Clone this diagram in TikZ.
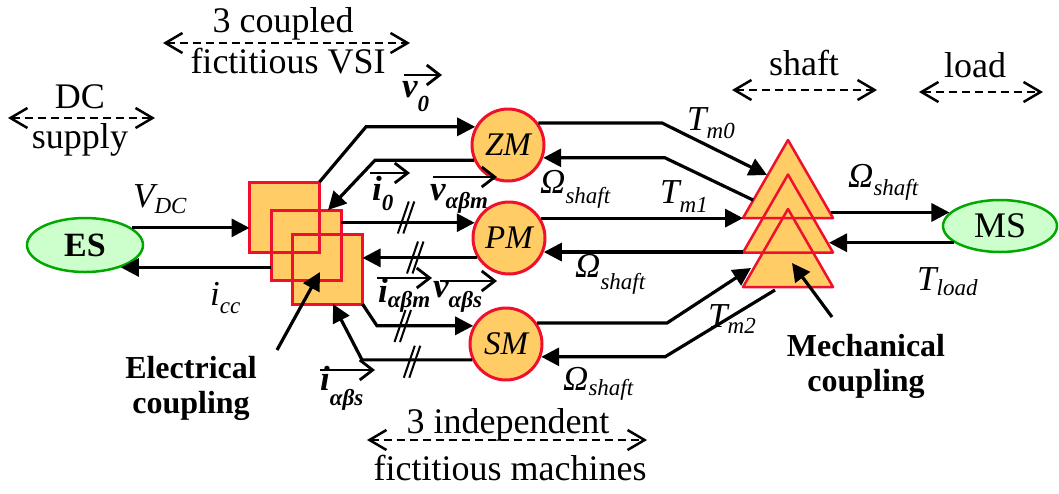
\documentclass[tikz,border=0pt]{standalone}
\usepackage{fontspec}
\setmainfont{Liberation Serif}
\usetikzlibrary{arrows.meta,shapes.geometric}

\definecolor{fillor}{HTML}{FFCC66}
\definecolor{redb}{HTML}{F0102E}
\definecolor{greenb}{HTML}{00A800}
\definecolor{fillgr}{HTML}{CCFFCC}

\newcommand\bigf{\fontsize{36}{40}\selectfont}
\newcommand\labf{\fontsize{35}{38}\selectfont\itshape}
\newcommand\SBf{\fontsize{23}{25}\selectfont\itshape}
\newcommand\lab[3][8pt]{#2\raisebox{-#1}{\SBf #3}}

\tikzset{
  conn/.style={line width=3.2pt, -{Triangle[length=18pt,width=18pt]}},
  vec/.style={line width=2.8pt, -{Straight Barb[length=13pt,width=20pt]}},
  dasharr/.style={line width=2.5pt, dash pattern=on 8pt off 5pt,
     {Straight Barb[length=17pt,width=20pt]}-{Straight Barb[length=17pt,width=20pt]}},
  mach/.style={circle, draw=redb, fill=fillor, line width=3pt, minimum size=72pt,
     inner sep=0pt, font=\fontsize{33}{33}\selectfont\itshape},
  sqbox/.style={rectangle, draw=redb, fill=fillor, line width=3pt, minimum size=70pt,
     inner sep=0pt, outer sep=0pt},
  sqline/.style={draw=redb, line width=3pt},
  src/.style={ellipse, draw=greenb, fill=fillgr, line width=2.5pt, inner sep=0pt},
  trifill/.style={fill=fillor},
  triline/.style={draw=redb, line width=2.5pt, line join=round},
  slashl/.style={line width=2pt},
  hdr/.style={inner sep=0pt, anchor=base, font=\bigf},
  lbl/.style={inner sep=0pt, anchor=base west, font=\labf},
  vlbl/.style={inner sep=0pt, anchor=base west, font=\labf\bfseries},
  blbl/.style={inner sep=0pt, anchor=base, font=\fontsize{32}{32}\selectfont\bfseries},
  dslash/.pic={
    \draw[slashl] (-8,16) -- (3,-16);
    \draw[slashl] (-2.5,16) -- (8.5,-16);
  }
}

\begin{document}
\begin{tikzpicture}[x=1pt,y=-1pt]
\useasboundingbox (0,0) rectangle (1059,493);

% ---------- headers ----------
\node[hdr] (h1) at (283,32) {3 coupled};
\node[hdr] (h2) at (288,73) {fictitious VSI};
\coordinate (d1a) at (163,43); \coordinate (d1b) at (410,43);
\draw[dasharr] (d1a) -- (d1b);
\node[hdr] (h3) at (80,108) {DC};
\node[hdr] (h4) at (80,148) {supply};
\coordinate (d2a) at (8,118); \coordinate (d2b) at (155,118);
\draw[dasharr] (d2a) -- (d2b);
\node[hdr] (h5) at (804,75) {shaft};
\coordinate (d3a) at (732,90); \coordinate (d3b) at (877,90);
\draw[dasharr] (d3a) -- (d3b);
\node[hdr] (h6) at (975,77) {load};
\coordinate (d4a) at (919,92); \coordinate (d4b) at (1043,92);
\draw[dasharr] (d4a) -- (d4b);
\coordinate (d5a) at (367,440); \coordinate (d5b) at (647,440);
\draw[dasharr] (d5a) -- (d5b);
\node[hdr] (h7) at (508,433) {3 independent};
\node[hdr] (h8) at (510,480) {fictitious machines};

% ---------- sources ----------
\node[src, minimum width=116pt, minimum height=54pt,
      font=\fontsize{34}{34}\selectfont\bfseries] (ES) at (85,245) {ES};
\node[src, minimum width=114pt, minimum height=52pt,
      font=\fontsize{36}{36}\selectfont] (MS) at (1000,226) {MS};

% ---------- VSI squares ----------
\node[sqbox] (sq1) at (284.5,217) {};
\node[sqbox] (sq2) at (306,245) {};
\node[sqbox] (sq3) at (327.5,269) {};
\foreach \s in {sq1,sq2} \draw[sqline] (\s.south west) rectangle (\s.north east);

% ---------- shaft triangles ----------
\coordinate (T1a) at (788,140);   \coordinate (T1l) at (743,218);   \coordinate (T1r) at (833,218);
\coordinate (T2a) at (788,174.5); \coordinate (T2l) at (743,252.5); \coordinate (T2r) at (833,252.5);
\coordinate (T3a) at (788,209);   \coordinate (T3l) at (743,287);   \coordinate (T3r) at (833,287);
\foreach \t in {T1,T2,T3} \fill[trifill] (\t a) -- (\t l) -- (\t r) -- cycle;
\foreach \t in {T1,T2,T3} \draw[triline] (\t a) -- (\t l) -- (\t r) -- cycle;

% ---------- machines ----------
\node[mach] (ZM) at (508,145) {ZM};
\node[mach] (PM) at (509,238) {PM};
\node[mach] (SM) at (506,344) {SM};

% ---------- DC side connectors ----------
\draw[conn] (ES.20) -- (sq1.west |- ES.20);
\draw[conn] (sq2.west |- ES.-32) -- (ES.-32);

% ---------- VSI <-> machines ----------
\draw[conn] (sq1.north east) -- (366,0 |- ZM.151) -- (ZM.151);
\draw[conn] (ZM.204) -- (375,0 |- ZM.204) -- (328,0 |- sq2.north);
\draw[conn] (sq2.east |- PM.156) -- (PM.156);
\draw[conn] (PM.212) -- (sq3.east |- PM.212);
\draw[conn] (sq3.south east) -- (377,0 |- SM.151) -- (SM.151);
\draw[conn] (SM.205) -- (362,0 |- SM.205) -- (333,0 |- sq3.south);

\pic at (405.8,217.5) {dslash};
\pic at (415,257.5) {dslash};
\pic at (402.5,326) {dslash};
\pic at (411.8,361.7) {dslash};

% ---------- machines <-> shaft ----------
\coordinate (t1in) at (767,175);
\coordinate (t1out) at (753,200);
\coordinate (t3in) at (751,268);
\coordinate (t3out) at (775,290);
\coordinate (shout) at (831,212);
\coordinate (tlin) at (829,243);
\draw[conn] (ZM.36) -- (662,0 |- ZM.36) -- (t1in);
\draw[conn] (t1out) -- (665,0 |- ZM.-20) -- (ZM.-20);
\draw[conn] (PM.32) -- (T1l |- PM.32);
\draw[conn] (T2l |- PM.-22) -- (PM.-22);
\draw[conn] (SM.34) -- (667,0 |- SM.34) -- (t3in);
\draw[conn] (t3out) -- (665,0 |- SM.-20) -- (SM.-20);
\draw[conn] (shout |- MS.165) -- (MS.165);
\draw[conn] (MS.200) -- (tlin |- MS.200);

% ---------- coupling pointers ----------
\coordinate (ecs) at (277,350); \coordinate (ece) at (320,272);
\draw[conn] (ecs) -- (ece);
\coordinate (mcs) at (832,317); \coordinate (mce) at (792,263);
\draw[conn] (mcs) -- (mce);
\node[blbl] (el1) at (191,378) {Electrical};
\node[blbl] (el2) at (191,413) {coupling};
\node[blbl] (me1) at (866,356) {Mechanical};
\node[blbl] (me2) at (866,391) {coupling};

% ---------- labels ----------
\node[lbl] (lVdc) at (133,207) {\lab[6pt]{V}{DC}};
\node[lbl] (licc) at (210,305) {\lab[8pt]{i}{cc}};
\node[vlbl] (lv0) at (402,97) {\lab[14pt]{v}{0}};
\node[vlbl] (li0) at (372,200) {\lab[10pt]{i}{0}};
\node[vlbl] (lvm) at (430,200) {\lab[8pt]{v}{αβm}};
\node[vlbl] (lim) at (378,302) {\lab[5pt]{i}{αβm}};
\node[vlbl] (lvs) at (433,297) {\lab[10pt]{v}{αβs}};
\node[vlbl] (lis) at (320,390) {\lab[15pt]{i}{αβs}};
\node[lbl] (lT0) at (687,130) {\lab[8pt]{T}{m0}};
\node[lbl] (lO1) at (540,193) {\lab[10pt]{Ω}{shaft}};
\node[lbl] (lT1) at (660,203) {\lab[9pt]{T}{m1}};
\node[lbl] (lO2) at (575,277) {\lab[12pt]{Ω}{shaft}};
\node[lbl] (lT2) at (708,327) {\lab[6pt]{T}{m2}};
\node[lbl] (lO3) at (563,390) {\lab[5pt]{Ω}{shaft}};
\node[lbl] (lO4) at (848,187) {\lab[8pt]{Ω}{shaft}};
\node[lbl] (lTl) at (917,290) {\lab[5pt]{T}{load}};

% ---------- vector arrows ----------
\coordinate (av0a) at (404,75);  \coordinate (av0b) at (442,75);
\coordinate (ai0a) at (370,173); \coordinate (ai0b) at (410,173);
\coordinate (avma) at (433,177); \coordinate (avmb) at (497,177);
\coordinate (aima) at (377,278); \coordinate (aimb) at (432,278);
\coordinate (avsa) at (440,281); \coordinate (avsb) at (497,281);
\coordinate (aisa) at (320,370); \coordinate (aisb) at (375,370);
\draw[vec] (av0a) -- (av0b);
\draw[vec] (ai0a) -- (ai0b);
\draw[vec] (avma) -- (avmb);
\draw[vec] (aima) -- (aimb);
\draw[vec] (avsa) -- (avsb);
\draw[vec] (aisa) -- (aisb);
\end{tikzpicture}
\end{document}
